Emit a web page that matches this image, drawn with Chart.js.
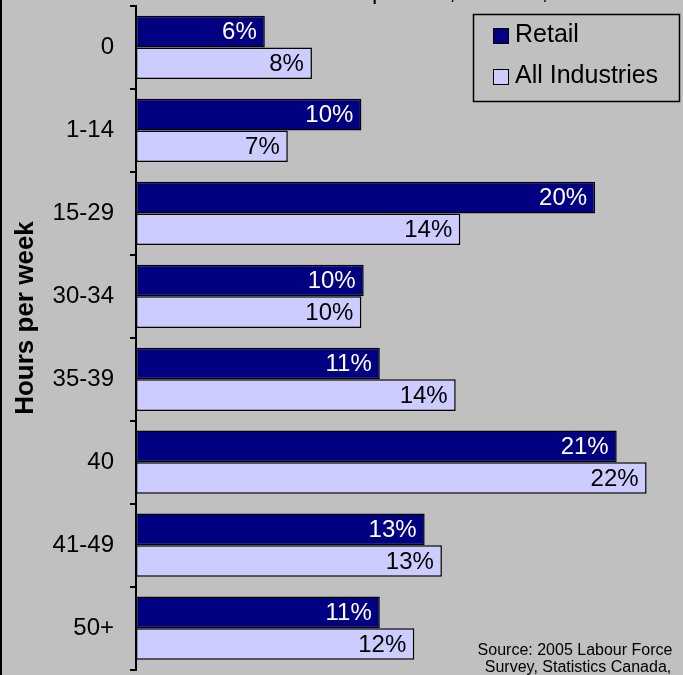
<!DOCTYPE html>
<html>
<head>
<meta charset="utf-8">
<script src="https://cdn.jsdelivr.net/npm/chart.js@4"></script>
<style>
html, body { margin:0; padding:0; background:#C0C0C0; overflow:hidden; }
#wrap { position:relative; width:683px; height:675px; overflow:hidden; }
#chart { position:absolute; left:0; top:-40px; }
</style>
</head>
<body>
<div id="wrap"><canvas id="chart" width="720" height="740"></canvas></div>
<script>

// Hours per week, share of workers (%)
const hours = ["0", "1-14", "15-29", "30-34", "35-39", "40", "41-49", "50+"];

const retail = [5.6, 9.8, 19.96, 9.9, 10.6, 20.9, 12.55, 10.6];

const allIndustries = [7.65, 6.6, 14.1, 9.8, 13.9, 22.2, 13.3, 12.1];

const xMin = 0;
const xMax = 25;

const OFF = 40; // canvas is shifted up, title is cut off

const decorations = {

    id:"decorations",

    beforeDraw(chart){
        const ctx = chart.ctx;
        ctx.save();
        ctx.fillStyle = "#C0C0C0";
        ctx.fillRect(0, 0, chart.width, chart.height);
        ctx.restore();
    },

    afterDatasetsDraw(chart){

        const ctx = chart.ctx;
        ctx.save();
        ctx.font = "24px 'Liberation Sans', Arial, sans-serif";
        ctx.textAlign = "right";
        ctx.textBaseline = "middle";

        chart.data.datasets.forEach((ds, i) => {
            const meta = chart.getDatasetMeta(i);
            ctx.fillStyle = i === 0 ? "#FFFFFF" : "#000000";
            meta.data.forEach((bar, j) => {
                ctx.fillText(Math.round(ds.data[j]) + "%", bar.x - 8, bar.y + 1);
            });
        });

        ctx.restore();
    },

    afterDraw(chart){

        const ctx = chart.ctx;
        ctx.save();
        ctx.translate(0, OFF);

        // title (cut off at top)
        ctx.fillStyle = "#000";
        ctx.font = "24px 'Liberation Sans', Arial, sans-serif";
        ctx.textAlign = "center";
        ctx.textBaseline = "alphabetic";
        ctx.fillText("Retail and all occupations, Ontario, 2005", 392, -1);

        // outer border on the left
        ctx.fillRect(0, -OFF, 2, chart.height);

        // axis title
        ctx.save();
        ctx.translate(26, 318);
        ctx.rotate(-Math.PI / 2);
        ctx.font = "bold 26px 'Liberation Sans', Arial, sans-serif";
        ctx.textBaseline = "middle";
        ctx.fillText("Hours per week", 0, 0);
        ctx.restore();

        // legend
        ctx.fillStyle = "#C0C0C0";
        ctx.fillRect(473, 14, 207, 88);
        ctx.strokeStyle = "#000";
        ctx.lineWidth = 1.5;
        ctx.strokeRect(473.5, 14.5, 206, 87);

        ctx.lineWidth = 1;
        ctx.fillStyle = "#000080";
        ctx.fillRect(493, 28, 16, 16);
        ctx.strokeRect(493.5, 28.5, 15, 15);
        ctx.fillStyle = "#CCCCFF";
        ctx.fillRect(493, 69, 16, 16);
        ctx.strokeRect(493.5, 69.5, 15, 15);

        ctx.fillStyle = "#000";
        ctx.font = "25px 'Liberation Sans', Arial, sans-serif";
        ctx.textAlign = "left";
        ctx.fillText("Retail", 515, 42);
        ctx.fillText("All Industries", 515, 83);

        // source note
        ctx.font = "16px 'Liberation Sans', Arial, sans-serif";
        ctx.textAlign = "center";
        ctx.fillText("Source: 2005 Labour Force", 575, 655);
        ctx.fillText("Survey, Statistics Canada,", 578, 672);

        ctx.restore();
    }
};

new Chart(

    document.getElementById("chart"),

    {
        type:"bar",

        data:{
            labels:hours,
            datasets:[
                {
                    label:"Retail",
                    data:retail,
                    backgroundColor:"#000080",
                    borderColor:"#000000",
                    borderWidth:1.5,
                    borderSkipped:false
                },
                {
                    label:"All Industries",
                    data:allIndustries,
                    backgroundColor:"#CCCCFF",
                    borderColor:"#000000",
                    borderWidth:1.5,
                    borderSkipped:false
                }
            ]
        },

        options:{
            indexAxis:"y",
            responsive:false,
            animation:false,
            categoryPercentage:0.762,
            barPercentage:1,
            layout:{
                padding:{ left:0, top:46, right:9, bottom:22 }
            },
            plugins:{
                legend:{ display:false },
                tooltip:{ enabled:false }
            },
            scales:{
                x:{
                    display:false,
                    min:xMin,
                    max:xMax
                },
                y:{
                    afterFit(scale){ scale.width = 136; },
                    border:{ color:"#000", width:2 },
                    grid:{
                        drawOnChartArea:false,
                        tickLength:6,
                        color:"#000",
                        lineWidth:2
                    },
                    ticks:{
                        color:"#000",
                        padding:16,
                        font:{ family:"'Liberation Sans', Arial, sans-serif", size:24 }
                    }
                }
            }
        },

        plugins:[decorations]
    }
);
</script>
</body>
</html>
